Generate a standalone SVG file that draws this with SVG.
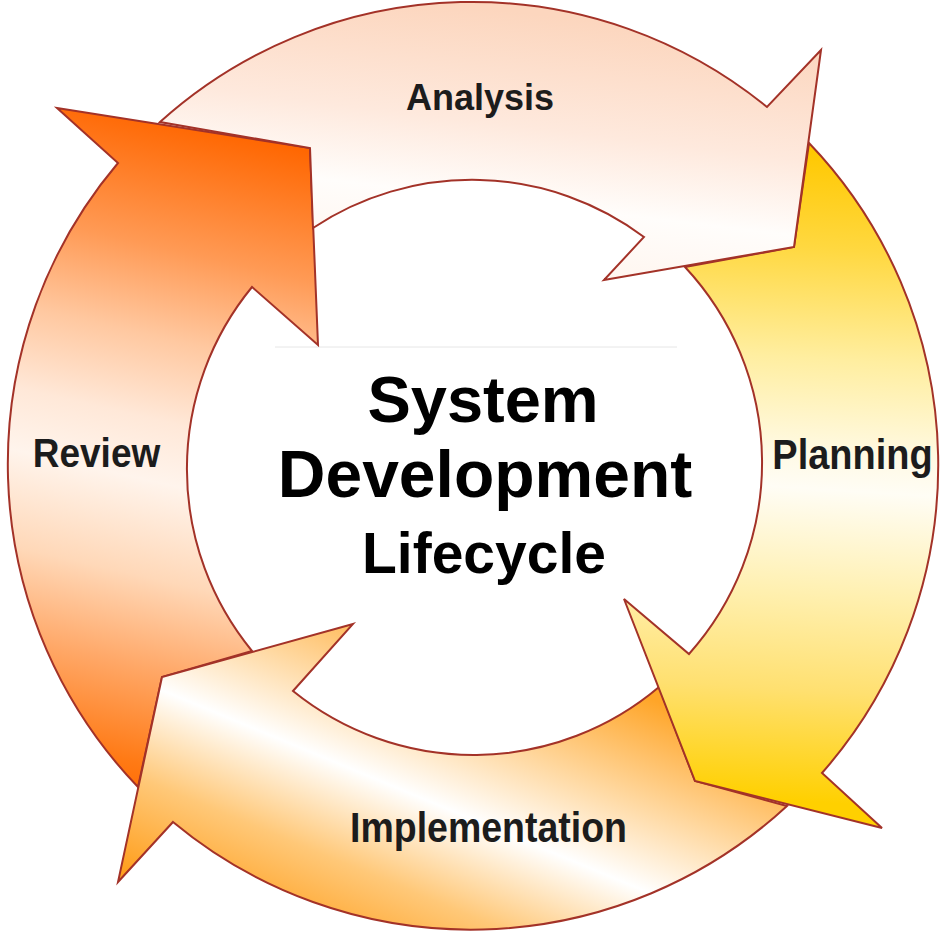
<svg xmlns="http://www.w3.org/2000/svg" width="945" height="938" viewBox="0 0 945 938">
<style>
.arrow{stroke:#A33228;stroke-width:2;stroke-linejoin:miter}
.lbl{font-family:"Liberation Sans",Arial,sans-serif;font-weight:bold;fill:#1c1c1c;text-anchor:middle}
.title{font-family:"Liberation Sans",Arial,sans-serif;font-weight:bold;fill:#000;text-anchor:middle}
</style>
<defs>
<linearGradient id="gReview" gradientUnits="userSpaceOnUse" x1="270" y1="140" x2="120" y2="800">
<stop offset="0" stop-color="#FF6600"/>
<stop offset="0.19" stop-color="#FF9A55"/>
<stop offset="0.32" stop-color="#FFC8A0"/>
<stop offset="0.44" stop-color="#FFE8D8"/>
<stop offset="0.53" stop-color="#FFF4EC"/>
<stop offset="0.67" stop-color="#FFD8B8"/>
<stop offset="0.8" stop-color="#FFA868"/>
<stop offset="0.94" stop-color="#FF7A15"/>
<stop offset="1" stop-color="#FF6A00"/>
</linearGradient>
<linearGradient id="gAnalysis" gradientUnits="userSpaceOnUse" x1="500" y1="10" x2="470" y2="260">
<stop offset="0" stop-color="#FCD6BE"/>
<stop offset="0.45" stop-color="#FEE9DD"/>
<stop offset="0.75" stop-color="#FFFDFB"/>
<stop offset="1" stop-color="#FFF6F0"/>
</linearGradient>
<linearGradient id="gPlanning" gradientUnits="userSpaceOnUse" x1="820" y1="150" x2="780" y2="800">
<stop offset="0" stop-color="#FFC800"/>
<stop offset="0.15" stop-color="#FFD840"/>
<stop offset="0.32" stop-color="#FFEEA0"/>
<stop offset="0.47" stop-color="#FFFAE6"/>
<stop offset="0.52" stop-color="#FFFDF5"/>
<stop offset="0.68" stop-color="#FFF0B0"/>
<stop offset="0.83" stop-color="#FFE070"/>
<stop offset="1" stop-color="#FFD000"/>
</linearGradient>
<linearGradient id="gImpl" gradientUnits="userSpaceOnUse" x1="321" y1="951" x2="459" y2="619">
<stop offset="0" stop-color="#FFA020"/>
<stop offset="0.25" stop-color="#FFC878"/>
<stop offset="0.5" stop-color="#FFFFFF"/>
<stop offset="0.72" stop-color="#FFD8A0"/>
<stop offset="1" stop-color="#FFA528"/>
</linearGradient>
</defs>
<rect width="945" height="938" fill="#FFFFFF"/>
<line x1="275" y1="347" x2="677" y2="347" stroke="#E6E6E6" stroke-width="1"/>
<g id="connectors">
<g id="review-arrow">
<path class="arrow" fill="url(#gReview)" d="M57,108 L310,148 L318,345 L252,287 A287,287 0 0 0 252,651 L162,677 L138,787 A466,466 0 0 1 118,163 Z"/>
</g>
<g id="implementation-arrow">
<path class="arrow" fill="url(#gImpl)" d="M353,624 L162,677 L118,882 L173,822 A466,466 0 0 0 787,806 L695,781 L659,687 A287,287 0 0 1 293,691 Z"/>
</g>
<g id="planning-arrow">
<path class="arrow" fill="url(#gPlanning)" d="M882,828 L695,781 L624,599 L689,654 A287,287 0 0 0 685,267 L794,247 L809,143 A466,466 0 0 1 822,773 Z"/>
</g>
<g id="analysis-arrow">
<path class="arrow" fill="url(#gAnalysis)" d="M821,50 L794,247 L604,280 L644,237 A287,287 0 0 0 313,228 L310,148 L160,122 A466,466 0 0 1 767,107 Z"/>
</g>
</g>
<g id="node-analysis"><text class="lbl" x="480" y="110" font-size="36">Analysis</text></g>
<g id="node-planning"><text class="lbl" font-size="38" transform="translate(852.5,469) scale(1,1.12)">Planning</text></g>
<g id="node-review"><text class="lbl" font-size="37" transform="translate(96.5,467) scale(1,1.09)">Review</text></g>
<g id="node-implementation"><text class="lbl" font-size="37.5" transform="translate(488.5,842) scale(1,1.12)">Implementation</text></g>
<g id="node-center">
<text class="title" x="483" y="422" font-size="65">System</text>
<text class="title" x="485" y="497" font-size="66">Development</text>
<text class="title" x="484" y="573" font-size="57">Lifecycle</text>
</g>
</svg>
